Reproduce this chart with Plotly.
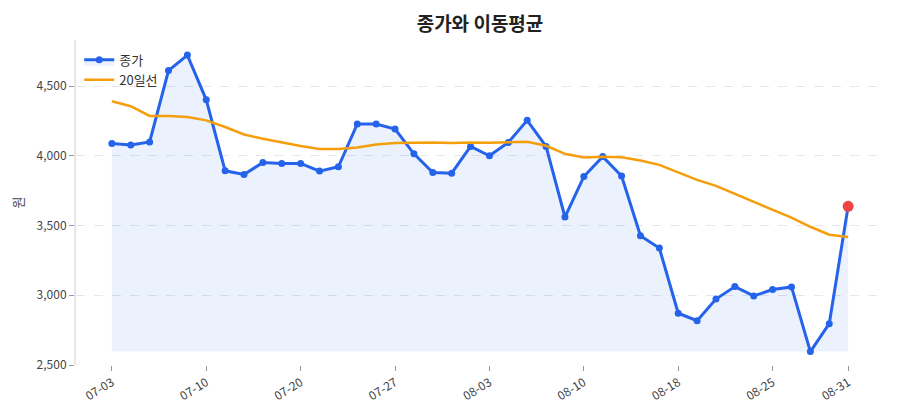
import plotly.graph_objects as go

# 거래일 (MM-DD)
dates = [
    "07-03", "07-04", "07-06", "07-07", "07-09", "07-10",
    "07-12", "07-14", "07-16", "07-18", "07-20",
    "07-21", "07-23", "07-24", "07-26", "07-27",
    "07-28", "07-30", "07-31", "08-02", "08-03",
    "08-04", "08-06", "08-07", "08-09", "08-10",
    "08-12", "08-13", "08-15", "08-17", "08-18",
    "08-19", "08-21", "08-22", "08-24", "08-25",
    "08-27", "08-28", "08-30", "08-31",
]

# 종가
close = [
    4088, 4077, 4099, 4611, 4722, 4401, 3892, 3866, 3952, 3945,
    3945, 3890, 3921, 4228, 4228, 4192, 4014, 3880, 3875, 4067,
    4000, 4096, 4254, 4067, 3561, 3851, 3994, 3855, 3427, 3338,
    2871, 2818, 2973, 3062, 2995, 3041, 3060, 2596, 2796, 3638,
]

# 20일 이동평균
ma20 = [
    4391, 4355, 4286, 4286, 4278, 4254, 4206, 4153, 4122, 4094,
    4070, 4048, 4048, 4060, 4081, 4091, 4096, 4096, 4091, 4096,
    4094, 4096, 4101, 4072, 4014, 3988, 3993, 3990, 3966, 3935,
    3880, 3827, 3784, 3727, 3667, 3612, 3556, 3491, 3434, 3417,
]

tick_dates = dates[::5] + [dates[-1]]

FONT = "Noto Sans CJK KR"
BLUE = "#2563eb"
ORANGE = "#f59e0b"

fig = go.Figure()

# 채우기 기준선 (최저 종가)
base = min(close)
fig.add_trace(go.Scatter(
    x=dates, y=[base] * len(dates), mode="lines",
    line=dict(width=0), showlegend=False, hoverinfo="skip"
))
fig.add_trace(go.Scatter(
    x=dates, y=close, mode="lines+markers", name="종가",
    line=dict(color=BLUE, width=3), marker=dict(size=7, color=BLUE),
    fill="tonexty", fillcolor="rgba(37,99,235,0.09)"
))
fig.add_trace(go.Scatter(
    x=dates, y=ma20, mode="lines", name="20일선",
    line=dict(color=ORANGE, width=2.5)
))
# 마지막 종가 강조
fig.add_trace(go.Scatter(
    x=[dates[-1]], y=[close[-1]], mode="markers",
    marker=dict(size=11, color="#ef4444"), showlegend=False
))

fig.update_layout(
    width=900, height=420,
    title=dict(text="<b>종가와 이동평균</b>", x=0.5, xref="paper", y=0.978, yanchor="top",
               font=dict(size=19, color="#222", family=FONT)),
    font=dict(family=FONT, size=12, color="#444"),
    plot_bgcolor="white", paper_bgcolor="white",
    margin=dict(l=68, r=24, t=32, b=63),
    legend=dict(x=0.004, y=0.985, xanchor="left", yanchor="top", traceorder="normal",
                bgcolor="rgba(255,255,255,0)", font=dict(size=13, color="#333")),
    showlegend=True,
)
fig.update_xaxes(
    type="category", range=[-1.9, 40.9], automargin=False,
    tickmode="array", tickvals=tick_dates, ticktext=tick_dates,
    tickangle=-32, ticks="outside", ticklen=5, tickcolor="#999",
    showgrid=False, showline=False, zeroline=False,
    tickfont=dict(size=12, color="#444"),
)
fig.update_yaxes(
    range=[2500, 4830], tickvals=[2500, 3000, 3500, 4000, 4500], automargin=False,
    tickformat=",", ticks="outside", ticklen=5, tickcolor="#999",
    showgrid=True, gridcolor="#e5e7eb", griddash="dash", gridwidth=1,
    showline=True, linecolor="#e5e7eb", linewidth=2, zeroline=False,
    title=dict(text="원", font=dict(size=13, color="#444"), standoff=10),
    tickfont=dict(size=12, color="#444"),
)

fig.write_html("out.html")
